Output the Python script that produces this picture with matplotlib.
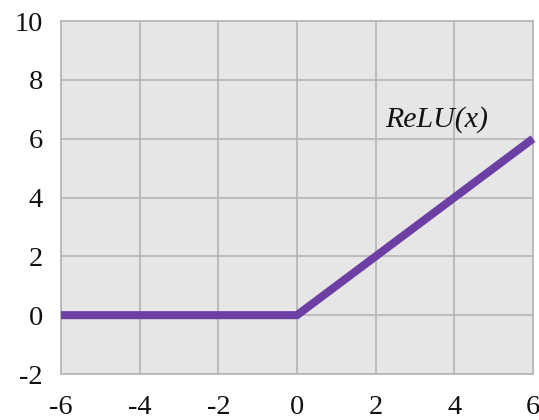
import matplotlib
matplotlib.use("Agg")
import matplotlib.pyplot as plt

x_vals = [-6, 0, 6]
relu_vals = [0, 0, 6]
x_ticks = [-6, -4, -2, 0, 2, 4, 6]
y_ticks = [-2, 0, 2, 4, 6, 8, 10]
label = "ReLU(x)"

plt.rcParams['font.family'] = ['Liberation Serif', 'DejaVu Serif']

fig = plt.figure(figsize=(5.39, 4.20), dpi=100)
ax = fig.add_axes([61/539, 46/420, 472/539, 353/420])
ax.set_facecolor('#e6e6e6')
ax.set_xlim(-6, 6)
ax.set_ylim(-2, 10)
ax.set_xticks(x_ticks)
ax.set_yticks(y_ticks)
ax.set_xticklabels([str(t) for t in x_ticks])
ax.set_yticklabels([str(t) for t in y_ticks])
ax.grid(True, color='#b8b8b8', linewidth=1.3)
ax.set_axisbelow(True)
for s in ax.spines.values():
    s.set_color('#b8b8b8')
    s.set_linewidth(1.3)
ax.tick_params(length=0, labelsize=20.5, colors='#111111')
ax.tick_params(axis='x', pad=15)
ax.tick_params(axis='y', pad=13)

ax.plot(x_vals, relu_vals, color='#6b3fa3', linewidth=5.8, solid_capstyle='butt',
        solid_joinstyle='miter', clip_on=False, zorder=3)
ax.text(2.25, 6.65, label, fontsize=21.5, style='italic', ha='left', va='center', color='#111111')

fig.savefig('out.png', dpi=100)
